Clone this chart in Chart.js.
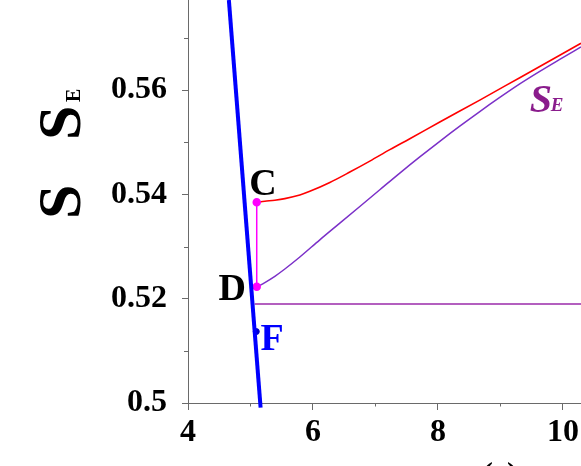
<!DOCTYPE html>
<html>
<head>
<meta charset="utf-8">
<script src="https://cdn.jsdelivr.net/npm/chart.js@4"></script>
<style>
body { margin: 0; background: #fff; }
#wrap { width: 581px; height: 466px; }
</style>
</head>
<body>
<div id="wrap"><canvas id="mycanvas"></canvas></div>
<script>
// values
var blueX = [4.654, 5.162];
var blueY = [0.5773, 0.4991];
var fX = [5.093];
var fY = [0.5137];
var cdX = [5.1, 5.1];
var cdY = [0.5385, 0.5223];
var redX = [5.1, 5.23, 5.39, 5.55, 5.79, 5.95, 6.27, 6.59, 6.91, 7.23, 7.55, 8.03, 8.67, 9.31, 9.95, 10.29];
var redY = [0.5385, 0.5387, 0.5389, 0.5392, 0.5399, 0.5406, 0.5423, 0.5443, 0.5464, 0.5486, 0.5507, 0.5539, 0.5581, 0.5624, 0.5667, 0.5690];
var purX = [5.11, 5.23, 5.39, 5.55, 5.79, 6.11, 6.43, 6.75, 7.07, 7.39, 7.71, 8.03, 8.35, 8.67, 8.99, 9.31, 9.63, 9.95, 10.29];
var purY = [0.5223, 0.5231, 0.5243, 0.5257, 0.5280, 0.5313, 0.5345, 0.5377, 0.5409, 0.5441, 0.5472, 0.5502, 0.5531, 0.5559, 0.5586, 0.5612, 0.5636, 0.5659, 0.5683];
var flatX = [5.066, 10.29];
var flatY = [0.519, 0.519];
var xLabels = [4, 6, 8, 10];
var xMinor = [5, 7, 9];
var yLabels = [0.5, 0.52, 0.54, 0.56];
var yMinor = [0.51, 0.53, 0.55, 0.57];

// point labels: text, x, y (baseline-left), colour
var marks = [
    { text: 'C', x: 4.98, y: 0.5399, color: '#000' },
    { text: 'D', x: 4.49, y: 0.5198, color: '#000' },
    { text: 'F', x: 5.162, y: 0.5101, color: '#0000ff' }
];

function pts(xs, ys) {
    var out = [];
    for (var i = 0; i < xs.length; i++) out.push({ x: xs[i], y: ys[i] });
    return out;
}

function isIn(list, v) {
    for (var i = 0; i < list.length; i++) {
        if (Math.abs(v - list[i]) < 1e-6) return true;
    }
    return false;
}

var serif = "'Liberation Serif', 'Times New Roman', serif";
var axisGrey = '#6a6a6a';

var textPlugin = {
    id: 'texts',
    afterDraw: function(chart) {
        var ctx = chart.ctx, xs = chart.scales.x, ys = chart.scales.y;
        var area = chart.chartArea;
        ctx.save();

        // short minor ticks
        ctx.strokeStyle = axisGrey;
        ctx.lineWidth = 1;
        ctx.beginPath();
        xMinor.forEach(function(v) {
            var px = Math.round(xs.getPixelForValue(v)) + 0.5;
            ctx.moveTo(px, area.bottom);
            ctx.lineTo(px, area.bottom + 3.5);
        });
        yMinor.forEach(function(v) {
            var py = Math.round(ys.getPixelForValue(v)) + 0.5;
            ctx.moveTo(area.left, py);
            ctx.lineTo(area.left - 4, py);
        });
        ctx.stroke();

        ctx.textBaseline = 'alphabetic';
        ctx.textAlign = 'left';
        ctx.font = 'bold 38px ' + serif;
        marks.forEach(function(m) {
            ctx.fillStyle = m.color;
            ctx.fillText(m.text, xs.getPixelForValue(m.x), ys.getPixelForValue(m.y));
        });

        // S_E label on the curve
        var sx = xs.getPixelForValue(9.471), sy = ys.getPixelForValue(0.5559);
        ctx.fillStyle = '#8a1c8c';
        ctx.font = 'italic bold 40px ' + serif;
        ctx.fillText('S', sx, sy);
        ctx.font = 'italic bold 19px ' + serif;
        ctx.fillText('E', sx + 21, sy - 1);

        // y axis title, rotated
        ctx.fillStyle = '#000';
        ctx.translate(80, 219);
        ctx.rotate(-Math.PI / 2);
        ctx.font = 'bold 62px ' + serif;
        ctx.fillText('S', 0, 0);
        ctx.fillText('S', 79, 0);
        ctx.font = 'bold 20px ' + serif;
        ctx.fillText('E', 117, 0);
        ctx.restore();

        // x axis title, mostly below the visible area
        ctx.save();
        ctx.fillStyle = '#000';
        ctx.font = 'bold 32px ' + serif;
        ctx.textAlign = 'center';
        ctx.fillText('(c)', 500, 484);
        ctx.restore();
    }
};

var ctx = document.getElementById('mycanvas');

var chart = new Chart(ctx, {
    type: 'scatter',
    data: {
        datasets: [
            {
                data: pts(blueX, blueY),
                showLine: true,
                borderColor: '#0000ff',
                borderWidth: 4,
                pointRadius: 0,
                clip: { left: 0, top: 0, right: 0, bottom: 8 }
            },
            {
                data: pts(fX, fY),
                pointRadius: 3,
                pointBackgroundColor: '#0000cc',
                pointBorderColor: '#0000cc'
            },
            {
                data: pts(cdX, cdY),
                showLine: true,
                borderColor: '#ff00ff',
                borderWidth: 1.5,
                pointRadius: 3.5,
                pointBackgroundColor: '#ff00ff',
                pointBorderColor: '#ff00ff'
            },
            {
                data: pts(redX, redY),
                showLine: true,
                borderColor: '#ff0000',
                borderWidth: 1.6,
                pointRadius: 0,
                cubicInterpolationMode: 'monotone'
            },
            {
                data: pts(purX, purY),
                showLine: true,
                borderColor: '#7b30c8',
                borderWidth: 1.5,
                pointRadius: 0,
                cubicInterpolationMode: 'monotone'
            },
            {
                data: pts(flatX, flatY),
                showLine: true,
                borderColor: '#9a2aaa',
                borderWidth: 1.5,
                pointRadius: 0
            }
        ]
    },
    options: {
        responsive: true,
        maintainAspectRatio: false,
        animation: false,
        layout: { padding: 0, autoPadding: false },
        plugins: {
            legend: { display: false },
            tooltip: { enabled: false }
        },
        scales: {
            x: {
                type: 'linear',
                min: 4,
                max: 10.29,
                grid: {
                    drawOnChartArea: false,
                    tickLength: 7,
                    color: axisGrey,
                    tickColor: function(c) {
                        return c.tick && isIn(xLabels, c.tick.value) ? axisGrey : 'rgba(0,0,0,0)';
                    }
                },
                border: { color: axisGrey },
                ticks: {
                    stepSize: 1,
                    includeBounds: false,
                    maxRotation: 0,
                    autoSkip: false,
                    padding: 4,
                    color: '#000',
                    font: { family: serif, size: 32, weight: 'bold' },
                    callback: function(v) {
                        return isIn(xLabels, v) ? String(Math.round(v)) : '';
                    }
                },
                afterFit: function(s) {
                    s.height = 63;
                    s.paddingLeft = 0;
                    s.paddingRight = 0;
                }
            },
            y: {
                min: 0.5,
                max: 0.5773,
                grid: {
                    drawOnChartArea: false,
                    tickLength: 6,
                    color: axisGrey,
                    tickColor: function(c) {
                        return c.tick && isIn(yLabels, c.tick.value) ? axisGrey : 'rgba(0,0,0,0)';
                    }
                },
                border: { color: axisGrey },
                ticks: {
                    stepSize: 0.01,
                    includeBounds: false,
                    autoSkip: false,
                    padding: 15,
                    color: '#000',
                    font: { family: serif, size: 32, weight: 'bold' },
                    callback: function(v) {
                        for (var i = 0; i < yLabels.length; i++) {
                            if (Math.abs(v - yLabels[i]) < 1e-6) return String(yLabels[i]);
                        }
                        return '';
                    }
                },
                afterFit: function(s) {
                    s.width = 188;
                    s.paddingTop = 0;
                    s.paddingBottom = 0;
                }
            }
        }
    },
    plugins: [textPlugin]
});
</script>
</body>
</html>
